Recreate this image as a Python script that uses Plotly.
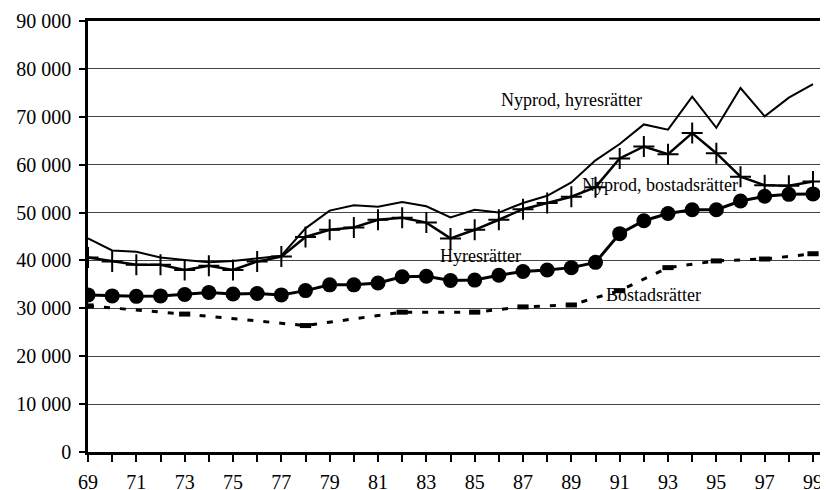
import plotly.graph_objects as go

years = list(range(69, 100))

nyprod_hyres = [44600, 42100, 41800, 40600, 40100, 39600, 39900, 40500, 41000, 46700,
                50400, 51500, 51200, 52200, 51300, 49000, 50600, 50000, 52000, 53500,
                56300, 60900, 64300, 68400, 67300, 74200, 67700, 76000, 70100, 74000, 76800]

nyprod_bostads = [40600, 39800, 39100, 39100, 38000, 38900, 38000, 39800, 40800, 44900,
                  46400, 46900, 48500, 48900, 47900, 44600, 46400, 48500, 50700, 52000,
                  53300, 55300, 61300, 63800, 62200, 66600, 62400, 57500, 55700, 55600, 56500]

hyres = [32800, 32600, 32500, 32600, 32900, 33300, 33000, 33100, 32800, 33700,
         34900, 34900, 35300, 36600, 36700, 35800, 35900, 36900, 37700, 38000,
         38500, 39600, 45600, 48300, 49800, 50600, 50600, 52400, 53400, 53800, 53900]

bostads_years = [69, 73, 78, 82, 85, 87, 89, 91, 93, 95, 97, 99]
bostads = [30500, 28800, 26400, 29200, 29200, 30300, 30700, 33700, 38500, 39900, 40300, 41400]

x_tick_vals = years
x_tick_text = [str(y) if y % 2 == 1 else "" for y in years]
y_tick_vals = [0, 10000, 20000, 30000, 40000, 50000, 60000, 70000, 80000, 90000]
y_tick_text = ["0", "10 000", "20 000", "30 000", "40 000", "50 000", "60 000",
               "70 000", "80 000", "90 000"]

labels = ["Nyprod, hyresrätter", "Nyprod, bostadsrätter", "Hyresrätter", "Bostadsrätter"]
label_x = [89.0, 92.65, 85.25, 92.4]
label_y = [73500, 55800, 41000, 32800]

FONT = "Times New Roman, Liberation Serif, serif"

fig = go.Figure()
fig.add_trace(go.Scatter(x=years, y=nyprod_hyres, mode="lines",
                         line=dict(color="black", width=2), name=labels[0]))
fig.add_trace(go.Scatter(x=years, y=nyprod_bostads, mode="lines+markers",
                         line=dict(color="black", width=2.5),
                         marker=dict(symbol="cross-thin-open", size=15,
                                     line=dict(color="black", width=2)),
                         name=labels[1]))
fig.add_trace(go.Scatter(x=years, y=hyres, mode="lines+markers",
                         line=dict(color="black", width=3),
                         marker=dict(symbol="circle", size=15, color="black"),
                         name=labels[2]))
fig.add_trace(go.Scatter(x=bostads_years, y=bostads, mode="lines+markers",
                         line=dict(color="black", width=3, dash="6px,10px"),
                         marker=dict(symbol="line-ew-open", size=8,
                                     line=dict(color="black", width=5)),
                         name=labels[3]))

for t, ax, ay in zip(labels, label_x, label_y):
    fig.add_annotation(x=ax, y=ay, text=t, showarrow=False,
                       font=dict(family=FONT, size=18, color="black"))

# page body has an 8px margin, so the figure is 8px smaller than the window
fig.update_layout(
    width=820, height=482,
    margin=dict(l=80, r=0, t=13, b=38),
    paper_bgcolor="white", plot_bgcolor="white",
    showlegend=False,
    font=dict(family=FONT, size=20, color="black"),
)
fig.update_xaxes(range=[69, 99.62], tickvals=x_tick_vals, ticktext=x_tick_text,
                 ticks="outside", ticklen=7, tickwidth=2, tickcolor="black",
                 showline=True, linewidth=2.5, linecolor="black", mirror=True,
                 showgrid=False, zeroline=False, automargin=False,
                 tickfont=dict(family=FONT, size=20), ticklabelstandoff=3)
fig.update_yaxes(range=[0, 90000], tickvals=y_tick_vals, ticktext=y_tick_text,
                 ticks="outside", ticklen=6, tickwidth=1.5, tickcolor="black",
                 showline=True, linewidth=2.5, linecolor="black",
                 showgrid=True, gridcolor="#444", gridwidth=1, zeroline=False,
                 automargin=False, ticklabelstandoff=4,
                 tickfont=dict(family=FONT, size=20))

fig.write_html("out.html")
